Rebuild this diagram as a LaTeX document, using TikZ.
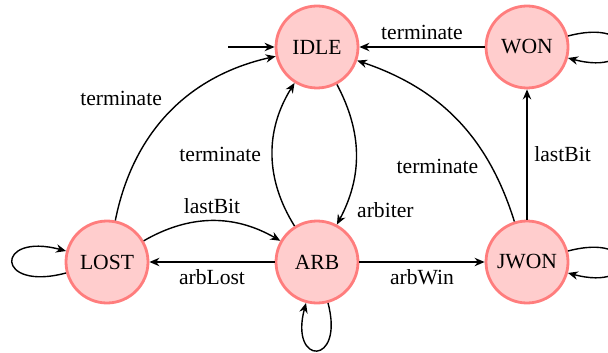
\documentclass[tikz,border=0pt]{standalone}
\usepackage{fontspec}
\setmainfont{Liberation Serif}
\usetikzlibrary{arrows.meta, positioning}
\definecolor{statefill}{RGB}{255,205,205}
\definecolor{stateborder}{RGB}{255,125,125}
\tikzset{
    statenode/.style={circle, draw=stateborder, fill=statefill, line width=1.4pt,
        minimum size=41pt, inner sep=0pt, font=\fontsize{10.8}{13}\selectfont},
    arrow/.style={-{Stealth[length=5pt,width=4.2pt]}, line width=0.7pt},
    lbl/.style={font=\fontsize{10.8}{13}\selectfont}
}

\begin{document}
\begin{tikzpicture}[x=0.5pt, y=-0.5pt, node distance=107.5pt and 105pt, on grid]

    \useasboundingbox (0,0) rectangle (608,352);

    % states
    \node[statenode] (idle) at (317,47) {IDLE};
    \node[statenode, right=of idle] (won) {WON};
    \node[statenode, below=of idle] (arb) {ARB};
    \node[statenode, left=of arb] (lost) {LOST};
    \node[statenode, right=of arb] (jwon) {JWON};

    \coordinate (start) at (228,47);

    % transitions
    \draw[arrow] (start) -- (idle);
    \draw[arrow] (won) -- node[lbl, above] {terminate} (idle);
    \draw[arrow] (won) to[out=15, in=-15, loop, min distance=13mm] (won);
    \draw[arrow] (idle) to[bend left=28] node[lbl, pos=0.9, right=3pt] {arbiter} (arb);
    \draw[arrow] (arb) to[bend left=32] node[lbl, left=2pt] {terminate} (idle);
    \draw[arrow] (lost) to[bend left=33] node[lbl, above left] {terminate} (idle);
    \draw[arrow] (jwon) to[bend right=27] node[lbl, pos=0.24, left=3pt] {terminate} (idle);
    \draw[arrow] (lost) to[bend left=30] node[lbl, above] {lastBit} (arb);
    \draw[arrow] (arb) -- node[lbl, below] {arbLost} (lost);
    \draw[arrow] (arb) -- node[lbl, below] {arbWin} (jwon);
    \draw[arrow] (jwon) -- node[lbl, right] {lastBit} (won);
    \draw[arrow] (lost) to[out=195, in=165, loop, min distance=13mm] (lost);
    \draw[arrow] (arb) to[out=-75, in=-105, loop, min distance=11.5mm] (arb);
    \draw[arrow] (jwon) to[out=15, in=-15, loop, min distance=13mm] (jwon);

\end{tikzpicture}
\end{document}
